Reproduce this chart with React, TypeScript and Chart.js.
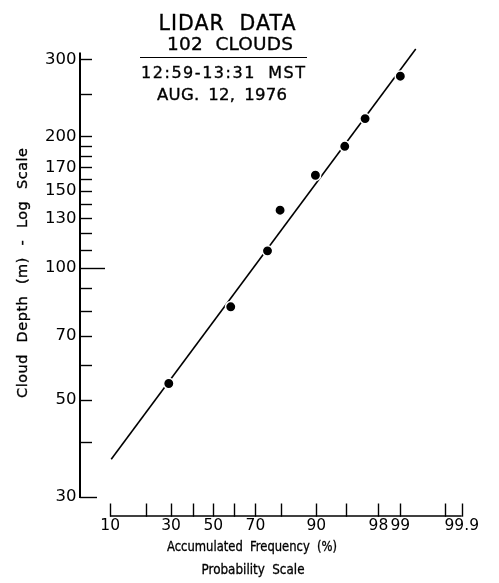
import React, { useEffect, useRef } from 'react';
import { Chart, registerables } from 'chart.js';

Chart.register(...registerables);

// ---- data ----
const frequencyPct = [29.0, 58.6, 75.0, 79.7, 89.8, 94.9, 97.05, 99.0];
const cloudDepthM = [54.5, 81.6, 109.5, 135.6, 163.0, 189.8, 219.6, 274.4];

const fitLinePct = [10.22, 99.41];
const fitLineDepth = [36.6, 316.7];

const xTickPct = [10, 20, 30, 40, 50, 60, 70, 80, 90, 95, 98, 99, 99.8, 99.9];
const xTickLabels = ['10', '', '30', '', '50', '', '70', '', '90', '', '98', '99', '', '99.9'];
const xRangePct = [4.87, 99.9];

const yTickValues = [30, 40, 50, 60, 70, 80, 90, 100, 110, 120, 130, 140, 150, 160, 170, 180, 190, 200, 250, 300];
const yTickLabels = ['30', '', '50', '', '70', '', '', '100', '', '', '130', '', '150', '', '170', '', '', '200', '', '300'];
const yRange = [30, 320];
const yAxisTop = 311;

const titleLines = ['LIDAR DATA', '102 CLOUDS', '12:59-13:31 MST', 'AUG. 12, 1976'];
const yTitle = 'Cloud Depth (m) - Log Scale';
const xTitleLines = ['Accumulated Frequency (%)', 'Probability Scale'];

const FONT = '"DejaVu Sans", "Liberation Sans", sans-serif';

// inverse of the standard normal CDF (probability-paper transform)
function probit(pct: number): number {
  const p = pct / 100;
  const a = [-3.969683028665376e1, 2.209460984245205e2, -2.759285104469687e2, 1.38357751867269e2, -3.066479806614716e1, 2.506628277459239];
  const b = [-5.447609879822406e1, 1.615858368580409e2, -1.556989798598866e2, 6.680131188771972e1, -1.328068155288572e1];
  const c = [-7.784894002430293e-3, -3.223964580411365e-1, -2.400758277161838, -2.549732539343734, 4.374664141464968, 2.938163982698783];
  const d = [7.784695709041462e-3, 3.224671290700398e-1, 2.445134137142996, 3.754408661907416];
  const plow = 0.02425;
  const phigh = 1 - plow;
  let q: number;
  let r: number;
  if (p < plow) {
    q = Math.sqrt(-2 * Math.log(p));
    return (((((c[0] * q + c[1]) * q + c[2]) * q + c[3]) * q + c[4]) * q + c[5]) / ((((d[0] * q + d[1]) * q + d[2]) * q + d[3]) * q + 1);
  }
  if (p <= phigh) {
    q = p - 0.5;
    r = q * q;
    return ((((((a[0] * r + a[1]) * r + a[2]) * r + a[3]) * r + a[4]) * r + a[5]) * q) / (((((b[0] * r + b[1]) * r + b[2]) * r + b[3]) * r + b[4]) * r + 1);
  }
  q = Math.sqrt(-2 * Math.log(1 - p));
  return -(((((c[0] * q + c[1]) * q + c[2]) * q + c[3]) * q + c[4]) * q + c[5]) / ((((d[0] * q + d[1]) * q + d[2]) * q + d[3]) * q + 1);
}

// draws text fitted to a target width (lettering style), centred at cx
function drawFitted(ctx: any, text: string, cx: number, baseline: number, width: number, size: number, wordGap = 0.25) {
  ctx.save();
  ctx.font = `${size}px ${FONT}`;
  ctx.fillStyle = '#000';
  ctx.strokeStyle = '#000';
  ctx.lineWidth = 0.35;
  ctx.textBaseline = 'alphabetic';
  ctx.textAlign = 'left';
  const hasLS = 'letterSpacing' in ctx;
  const hasWS = 'wordSpacing' in ctx;
  if (hasLS) ctx.letterSpacing = '0px';
  if (hasWS) ctx.wordSpacing = '0px';
  const w0 = ctx.measureText(text).width;
  const n = text.length;
  const spaces = (text.match(/ /g) || []).length;
  const ws = hasWS ? wordGap * size : 0;
  if (hasLS && w0 + spaces * ws <= width) {
    const ls = (width - w0 - spaces * ws) / Math.max(1, n - 1);
    ctx.letterSpacing = `${ls}px`;
    if (hasWS) ctx.wordSpacing = `${ws}px`;
    ctx.fillText(text, cx - width / 2, baseline);
    ctx.strokeText(text, cx - width / 2, baseline);
  } else {
    if (hasWS) ctx.wordSpacing = `${ws}px`;
    const w1 = ctx.measureText(text).width;
    ctx.translate(cx - width / 2, baseline);
    ctx.scale(width / w1, 1);
    ctx.fillText(text, 0, 0);
    ctx.strokeText(text, 0, 0);
  }
  ctx.restore();
}

const axesPlugin = {
  id: 'probAxes',
  beforeDatasetsDraw(chart: any) {
    const { ctx, chartArea } = chart;
    const xS = chart.scales.x;
    const yS = chart.scales.y;
    const ax = chartArea.left;
    ctx.save();
    ctx.strokeStyle = '#000';
    ctx.lineCap = 'butt';

    // y axis
    ctx.lineWidth = 2;
    ctx.beginPath();
    ctx.moveTo(ax, yS.getPixelForValue(yRange[0]) + 1);
    ctx.lineTo(ax, yS.getPixelForValue(yAxisTop));
    ctx.stroke();
    ctx.lineWidth = 1.4;
    yTickValues.forEach((v) => {
      const len = v === 100 ? 25 : v === 30 ? 17 : 12;
      const py = Math.round(yS.getPixelForValue(v)) + 0.5;
      ctx.beginPath();
      ctx.moveTo(ax, py);
      ctx.lineTo(ax + len, py);
      ctx.stroke();
    });

    // x axis (probability scale), set below the plot
    const ay = chartArea.bottom + 19;
    ctx.lineWidth = 1.5;
    ctx.beginPath();
    ctx.moveTo(xS.getPixelForValue(probit(xTickPct[0])), ay);
    ctx.lineTo(xS.getPixelForValue(probit(xTickPct[xTickPct.length - 1])), ay);
    ctx.stroke();
    ctx.lineWidth = 1.4;
    xTickPct.forEach((p) => {
      const px = Math.round(xS.getPixelForValue(probit(p))) + 0.5;
      ctx.beginPath();
      ctx.moveTo(px, ay + 0.7);
      ctx.lineTo(px, ay - 12.5);
      ctx.stroke();
    });
    ctx.restore();
  },
  afterDraw(chart: any) {
    const { ctx } = chart;
    // annotation block
    drawFitted(ctx, titleLines[0], 227, 30, 137, 20.5, 0.35);
    drawFitted(ctx, titleLines[1], 230, 50, 126, 18.5, 0.35);
    ctx.save();
    ctx.strokeStyle = '#000';
    ctx.lineWidth = 1.2;
    ctx.beginPath();
    ctx.moveTo(140, 57.5);
    ctx.lineTo(307, 57.5);
    ctx.stroke();
    ctx.restore();
    drawFitted(ctx, titleLines[2], 223, 78.3, 164, 16, 0.35);
    drawFitted(ctx, titleLines[3], 222, 100, 130, 16.5, 0.2);

    // y title (rotated)
    ctx.save();
    ctx.translate(26.7, 273);
    ctx.rotate(-Math.PI / 2);
    drawFitted(ctx, yTitle, 0, 0, 250, 14.5, 0.45);
    ctx.restore();

    // x titles
    drawFitted(ctx, xTitleLines[0], 252, 551, 170, 14.5, 0.3);
    drawFitted(ctx, xTitleLines[1], 253, 574, 103, 14.5, 0.3);
  },
};

export default function App() {
  const ref = useRef<HTMLCanvasElement | null>(null);

  useEffect(() => {
    document.body.style.margin = '0';
    document.body.style.overflow = 'hidden';
    const canvas = ref.current;
    if (!canvas) return;

    const points = frequencyPct.map((p, i) => ({ x: probit(p), y: cloudDepthM[i] }));
    const fit = fitLinePct.map((p, i) => ({ x: probit(p), y: fitLineDepth[i] }));

    const chart = new Chart(canvas, {
      type: 'scatter',
      data: {
        datasets: [
          {
            data: points,
            pointRadius: 5.2,
            pointBackgroundColor: '#000',
            pointBorderColor: '#fff',
            pointBorderWidth: 1.5,
            showLine: false,
            clip: false,
          } as any,
          {
            data: fit,
            showLine: true,
            borderColor: '#000',
            borderWidth: 1.6,
            pointRadius: 0,
            fill: false,
            clip: false,
          } as any,
        ],
      },
      options: {
        animation: false,
        responsive: false,
        devicePixelRatio: 1,
        layout: { padding: { top: 47, right: 31.3, left: 0, bottom: 0 } },
        plugins: { legend: { display: false }, tooltip: { enabled: false }, title: { display: false } },
        scales: {
          x: {
            type: 'linear',
            position: 'bottom',
            min: probit(xRangePct[0]),
            max: probit(xRangePct[1]),
            grid: { display: false, drawTicks: false },
            border: { display: false },
            afterBuildTicks: (s: any) => {
              s.ticks = xTickPct.map((p) => ({ value: probit(p) }));
            },
            afterFit: (s: any) => {
              s.height = 86;
            },
            ticks: {
              autoSkip: false,
              maxRotation: 0,
              minRotation: 0,
              padding: 20,
              color: '#000',
              font: { family: FONT, size: 15.5 },
              callback: (_v: any, i: number) => xTickLabels[i],
            },
          },
          y: {
            type: 'logarithmic',
            position: 'left',
            min: yRange[0],
            max: yRange[1],
            grid: { display: false, drawTicks: false },
            border: { display: false },
            afterBuildTicks: (s: any) => {
              s.ticks = yTickValues.map((v) => ({ value: v }));
            },
            afterFit: (s: any) => {
              s.width = 80;
            },
            ticks: {
              autoSkip: false,
              padding: 3.5,
              color: '#000',
              font: { family: FONT, size: 16.5 },
              callback: (_v: any, i: number) => yTickLabels[i],
            },
          },
        },
      } as any,
      plugins: [axesPlugin],
    });

    return () => {
      chart.destroy();
    };
  }, []);

  return (
    <div style={{ width: 499, height: 583, background: '#fff' }}>
      <canvas ref={ref} width={499} height={583} style={{ display: 'block' }} />
    </div>
  );
}
